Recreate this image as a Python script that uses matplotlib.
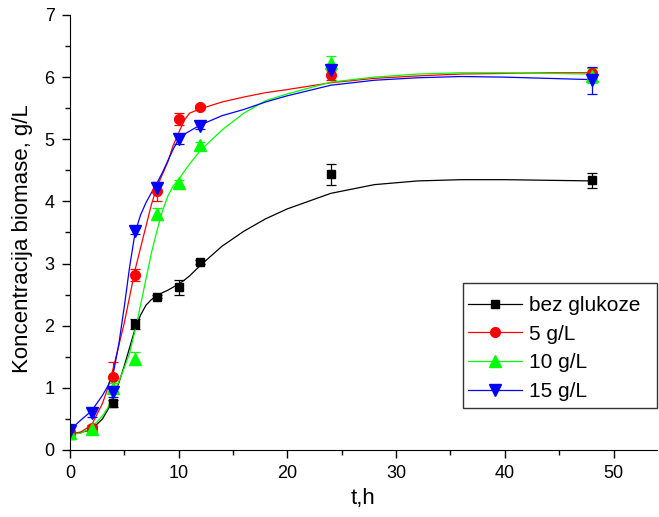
import matplotlib
matplotlib.use("Agg")
import matplotlib.pyplot as plt
from matplotlib.lines import Line2D
from matplotlib.patches import Rectangle
from matplotlib.ticker import MultipleLocator

plt.rcParams['font.family'] = ['Liberation Sans', 'DejaVu Sans']

# measured points
t_pts = [0, 2, 4, 6, 8, 10, 12, 24, 48]
y_black = [0.25, 0.33, 0.75, 2.03, 2.47, 2.62, 3.02, 4.44, 4.34]
e_black = [0.05, 0.05, 0.06, 0.08, 0.03, 0.12, 0.03, 0.17, 0.12]
y_red = [0.27, 0.35, 1.18, 2.82, 4.16, 5.33, 5.52, 6.03, 6.07]
e_red = [0.05, 0.05, 0.23, 0.10, 0.16, 0.10, 0.03, 0.08, 0.08]
y_green = [0.28, 0.33, 1.00, 1.47, 3.80, 4.30, 4.90, 6.22, 6.02]
e_green = [0.10, 0.05, 0.08, 0.10, 0.10, 0.05, 0.05, 0.12, 0.12]
y_blue = [0.30, 0.60, 0.93, 3.52, 4.22, 5.00, 5.22, 6.12, 5.95]
e_blue = [0.12, 0.07, 0.07, 0.05, 0.07, 0.08, 0.06, 0.08, 0.22]

# fitted curves
fit_t = [0, 1, 2, 3, 3.5, 4, 4.5, 5, 5.5, 6, 6.5, 7, 7.5, 8, 8.5, 9, 9.5, 10, 10.5,
         11, 12, 14, 16, 18, 20, 24, 28, 32, 36, 40, 44, 48]
fit_black = [0.26, 0.28, 0.33, 0.50, 0.65, 0.85, 1.08, 1.35, 1.65, 1.95, 2.17, 2.33, 2.42, 2.48,
             2.53, 2.57, 2.62, 2.67, 2.73, 2.80, 2.97, 3.28, 3.52, 3.72, 3.88, 4.13, 4.27, 4.33,
             4.35, 4.35, 4.34, 4.33]
fit_red = [0.25, 0.29, 0.40, 0.75, 1.00, 1.32, 1.68, 2.04, 2.47, 2.90, 3.25, 3.60, 3.95, 4.23,
           4.43, 4.63, 4.90, 5.10, 5.30, 5.42, 5.49, 5.60, 5.68, 5.75, 5.80, 5.91, 5.98, 6.02,
           6.05, 6.06, 6.07, 6.07]
fit_green = [0.25, 0.27, 0.36, 0.55, 0.68, 0.90, 1.10, 1.32, 1.56, 1.93, 2.33, 2.75, 3.17, 3.52,
             3.84, 4.08, 4.25, 4.35, 4.48, 4.60, 4.82, 5.15, 5.42, 5.62, 5.73, 5.92, 6.00, 6.05,
             6.07, 6.07, 6.06, 6.05]
fit_blue = [0.32, 0.48, 0.63, 0.88, 1.03, 1.24, 1.70, 2.30, 2.95, 3.50, 3.78, 3.98, 4.14, 4.29,
            4.46, 4.65, 4.84, 5.00, 5.08, 5.13, 5.23, 5.38, 5.48, 5.60, 5.70, 5.87, 5.95, 5.99,
            6.01, 6.00, 5.98, 5.96]

labels = ["bez glukoze", "5 g/L", "10 g/L", "15 g/L"]
colors = ["black", "#ff0000", "#00ff00", "#0000ff"]
markers = ["s", "o", "^", "v"]
msizes = [6, 7, 9, 9]

fig = plt.figure(figsize=(6.59, 5.17), dpi=100)
ax = fig.add_axes([0.106, 0.1296, 0.891, 0.8414])

series = [(y_black, e_black, fit_black), (y_red, e_red, fit_red),
          (y_green, e_green, fit_green), (y_blue, e_blue, fit_blue)]
handles = []
for (ys, es, fs), c, m, ms, lab in zip(series, colors, markers, msizes, labels):
    ax.plot(fit_t, fs, color=c, lw=0.9)
    ax.errorbar(t_pts, ys, yerr=es, fmt=m, color=c, ms=ms, mec=c, mfc=c,
                ecolor=c, elinewidth=0.9, capsize=3.5, capthick=0.9, ls='none')
    handles.append(Line2D([], [], color=c, marker=m, ms=ms, lw=0.9, label=lab))

ax.set_xlim(0, 54)
ax.set_ylim(0, 7)
ax.xaxis.set_major_locator(MultipleLocator(10))
ax.xaxis.set_minor_locator(MultipleLocator(5))
ax.yaxis.set_major_locator(MultipleLocator(1))
ax.yaxis.set_minor_locator(MultipleLocator(0.5))
for s in ['top', 'right']:
    ax.spines[s].set_visible(False)
ax.tick_params(which='major', direction='out', length=6, width=1, labelsize=13, pad=5)
ax.tick_params(which='minor', direction='out', length=3.5, width=1)
ax.set_xlabel("t,h", fontsize=16, labelpad=4)
ax.set_ylabel("Koncentracija biomase, g/L", fontsize=16, labelpad=8)
ax.yaxis.label.set_y(0.485)

# legend box
ax.add_patch(Rectangle((0.6695, 0.0966), 0.3305, 0.2874, transform=ax.transAxes,
                       fill=True, facecolor='white', edgecolor='#333333', lw=1.0,
                       clip_on=False, zorder=5))
leg = ax.legend(handles=handles, loc='center left', bbox_to_anchor=(0.678, 0.2333),
                fontsize=15, frameon=False,
                handlelength=2.6, handletextpad=0.33, labelspacing=0.47,
                borderpad=0, borderaxespad=0)
leg.set_zorder(6)

fig.savefig("out.png", dpi=100)
